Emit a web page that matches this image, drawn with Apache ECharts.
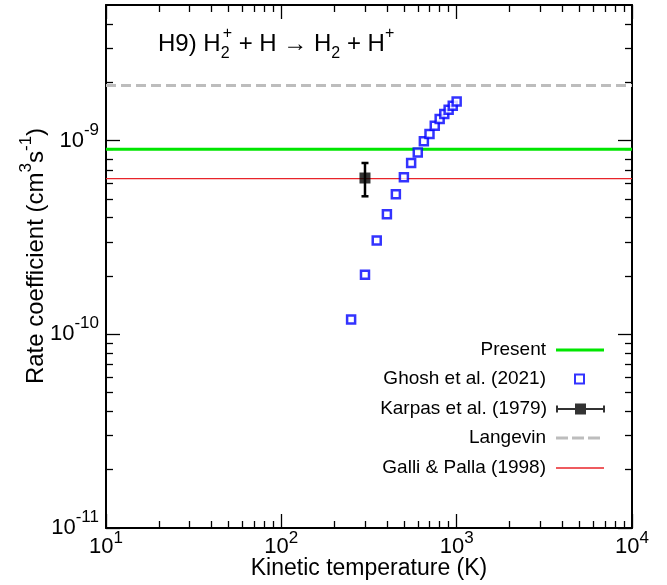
<!DOCTYPE html>
<html>
<head>
<meta charset="utf-8">
<script src="https://cdn.jsdelivr.net/npm/echarts@6/dist/echarts.min.js"></script>
<style>html,body{margin:0;padding:0;background:#fff}#c{width:667px;height:585px}</style>
</head>
<body>
<div id="c"></div>
<script>
// ---- axis ranges ----
const xRange = [10, 10000];
const yRange = [1e-11, 5e-9];
const xDecades = [1, 2, 3];
const yDecades = [-11, -10, -9];

// ---- Ghosh et al. (2021) ----
const ghoshT = [250, 300, 350, 400, 450, 500, 550, 600, 650, 700, 750, 800, 850, 900, 950, 1000];
const ghoshRate = [1.19e-10, 2.03e-10, 3.05e-10, 4.16e-10, 5.27e-10, 6.45e-10, 7.65e-10, 8.67e-10,
                   9.9e-10, 1.08e-9, 1.19e-9, 1.29e-9, 1.37e-9, 1.44e-9, 1.51e-9, 1.59e-9];

// ---- Karpas et al. (1979) ----
const karpasT = [300];
const karpasRate = [6.4e-10];
const karpasLow = [5.15e-10];
const karpasHigh = [7.65e-10];

// ---- constant rate coefficients ----
const presentRate = 9.0e-10;
const langevinRate = 1.92e-9;
const galliRate = 6.35e-10;

const FONT = '"Liberation Sans", Arial, Helvetica, sans-serif';
const black = '#000000';
const green = '#00e600';
const red = '#e8242a';
const gray = '#bdbdbd';
const blue = '#0000ff';

function minorLog(decs, maxLog) {
  const out = [];
  decs.forEach(d => { for (let k = 2; k <= 9; k++) { const v = d + Math.log10(k); if (v < maxLog - 1e-9) out.push(v); } });
  return out;
}
const xLog = xRange.map(Math.log10);
const yLog = yRange.map(Math.log10);
const xMinor = minorLog(xDecades, xLog[1]);
const yMinor = minorLog(yDecades, yLog[1]);
const xMajor = xDecades.concat([xLog[1]]);
const yMajor = yDecades.slice();

function powLabel(v) {
  const l = Math.log10(v), e = Math.round(l);
  if (Math.abs(l - e) > 1e-6) return '';
  return '{b|10}{s|' + e + '}';
}

const axisLineStyle = {color: black, width: 2};
const tickMajor = {show: true, inside: true, length: 14, lineStyle: {color: black, width: 1.3}};
const tickMinor = {show: true, inside: true, length: 7, lineStyle: {color: black, width: 1.3}};

function helperAxis(pos, range, ticks, tick, showLine) {
  return {
    type: 'value', position: pos, min: range[0], max: range[1], silent: true,
    axisLine: {show: showLine, onZero: false, lineStyle: axisLineStyle},
    axisTick: Object.assign({}, tick, {customValues: ticks}),
    axisLabel: {show: false}, splitLine: {show: false}, minorTick: {show: false}
  };
}

const richX = {
  b: {fontFamily: FONT, fontSize: 22, lineHeight: 34, color: black},
  s: {fontFamily: FONT, fontSize: 17, lineHeight: 17, verticalAlign: 'top', color: black}
};
const richY = {
  b: {fontFamily: FONT, fontSize: 22, lineHeight: 38, color: black},
  s: {fontFamily: FONT, fontSize: 17, lineHeight: 17, verticalAlign: 'top', color: black}
};

function legendBox(name, icon, color, w, h, right, top, padRight, borderWidth) {
  const item = {name: name, itemStyle: {color: color}};
  if (icon) item.icon = icon;
  const lg = {
    data: [item], orient: 'vertical', align: 'right', right: right, top: top, padding: 0,
    itemWidth: w, itemHeight: h, selectedMode: false,
    textStyle: {fontFamily: FONT, fontSize: 19, color: black, lineHeight: 22, padding: [0, padRight, 0, 0]}
  };
  if (borderWidth === 0) { lg.itemStyle = {borderWidth: 0}; item.itemStyle.borderWidth = 0; }
  return lg;
}

const chart = echarts.init(document.getElementById('c'), null, {renderer: 'canvas'});
chart.setOption({
  animation: false,
  backgroundColor: '#ffffff',
  title: {
    text: 'H9) H{sub0|2}{sup|+} + H \u2192 H{sub|2} + H{sup|+}',
    left: 158, top: 26, padding: 0,
    textStyle: {
      fontFamily: FONT, fontSize: 24, fontWeight: 'normal', color: black, lineHeight: 36,
      rich: {
        sub0: {fontFamily: FONT, fontSize: 16, lineHeight: 16, width: 2, verticalAlign: 'bottom', color: black},
        sub: {fontFamily: FONT, fontSize: 16, lineHeight: 16, verticalAlign: 'bottom', color: black},
        sup: {fontFamily: FONT, fontSize: 16, lineHeight: 16, verticalAlign: 'top', color: black}
      }
    }
  },
  legend: [
    legendBox('Present', 'path://M0,0h48v3h-48z', green, 48, 3, 63, 339, 5, 0),
    legendBox('Ghosh et al. (2021)', null, '#ffffff', 9, 9, 82, 368, 24),
    legendBox('Karpas et al. (1979)', 'path://M0,2h2v2.5h45v-2.5h2v7h-2v-2.5h-45v2.5h-2z M19,0h11v11h-11z', black, 49, 11, 62, 398, 4, 0),
    legendBox('Langevin', 'path://M0,0h12v3h-12z M16,0h12v3h-12z M32,0h12v3h-12z', gray, 44, 3, 67, 427, 5, 0),
    legendBox('Galli & Palla (1998)', 'path://M0,0h48v1.5h-48z', red, 48, 1.5, 63, 457, 5, 0)
  ],
  grid: {left: 106, right: 35, top: 5, bottom: 56, containLabel: false},
  xAxis: [
    {
      type: 'log', logBase: 10, position: 'bottom', min: xRange[0], max: xRange[1],
      axisLine: {show: true, onZero: false, lineStyle: axisLineStyle},
      axisTick: tickMajor, minorTick: {show: false}, splitLine: {show: false},
      axisLabel: {margin: 2, formatter: powLabel, rich: richX, color: black, showMinLabel: true, showMaxLabel: true},
      name: 'Kinetic temperature (K)', nameLocation: 'middle', nameGap: 29, nameMoveOverlap: false,
      nameTextStyle: {fontFamily: FONT, fontSize: 23, color: black, lineHeight: 23}
    },
    helperAxis('bottom', xLog, xMinor, tickMinor, false),
    helperAxis('top', xLog, xMajor, tickMajor, true),
    helperAxis('top', xLog, xMinor, tickMinor, false)
  ],
  yAxis: [
    {
      type: 'log', logBase: 10, position: 'left', min: yRange[0], max: yRange[1],
      axisLine: {show: true, onZero: false, lineStyle: axisLineStyle},
      axisTick: tickMajor, minorTick: {show: false}, splitLine: {show: false},
      axisLabel: {margin: 7, formatter: powLabel, rich: richY, color: black, showMinLabel: true, showMaxLabel: false},
      name: 'Rate coefficient (cm{sup|3}s{sup|-1})', nameLocation: 'middle', nameGap: 52, nameRotate: 90,
      nameMoveOverlap: false,
      nameTextStyle: {
        fontFamily: FONT, fontSize: 24, color: black, lineHeight: 36, padding: [0, 0, 0, 21],
        rich: {sup: {fontFamily: FONT, fontSize: 17, lineHeight: 14, verticalAlign: 'top', color: black}}
      }
    },
    helperAxis('left', yLog, yMinor, tickMinor, false),
    helperAxis('right', yLog, yMajor, tickMajor, true),
    helperAxis('right', yLog, yMinor, tickMinor, false)
  ],
  series: [
    {
      name: 'Present', type: 'line', color: green, symbol: 'none', silent: true, z: 2,
      data: xRange.map(x => [x, presentRate]),
      lineStyle: {color: green, width: 3}, itemStyle: {color: green}
    },
    {
      name: 'Langevin', type: 'line', color: gray, symbol: 'none', silent: true, z: 2,
      data: xRange.map(x => [x, langevinRate]),
      lineStyle: {color: gray, width: 3, type: [10, 5]}, itemStyle: {color: gray}
    },
    {
      name: 'Galli & Palla (1998)', type: 'line', color: red, symbol: 'none', silent: true, z: 2,
      data: xRange.map(x => [x, galliRate]),
      lineStyle: {color: red, width: 1.3}, itemStyle: {color: red}
    },
    {
      name: 'Ghosh et al. (2021)', type: 'scatter', symbol: 'rect', symbolSize: 8, z: 5,
      data: ghoshT.map((t, i) => [t, ghoshRate[i]]),
      itemStyle: {color: '#ffffff', borderColor: blue, borderWidth: 2.5}
    },
    {
      name: 'Karpas et al. (1979)', type: 'scatter', symbol: 'rect', symbolSize: 11, z: 7,
      data: karpasT.map((t, i) => [t, karpasRate[i]]),
      itemStyle: {color: black}
    },
    {
      name: 'Karpas et al. (1979)', type: 'custom', z: 6,
      data: karpasT.map((t, i) => [t, karpasLow[i], karpasHigh[i]]),
      encode: {x: 0, y: [1, 2]},
      itemStyle: {color: black},
      renderItem: function (params, api) {
        const x = api.value(0);
        const lo = api.coord([x, api.value(1)]);
        const hi = api.coord([x, api.value(2)]);
        const cap = 3.5;
        const st = {stroke: black, lineWidth: 2.5};
        return {
          type: 'group',
          children: [
            {type: 'line', shape: {x1: lo[0], y1: lo[1], x2: hi[0], y2: hi[1]}, style: st},
            {type: 'line', shape: {x1: lo[0] - cap, y1: lo[1], x2: lo[0] + cap, y2: lo[1]}, style: st},
            {type: 'line', shape: {x1: hi[0] - cap, y1: hi[1], x2: hi[0] + cap, y2: hi[1]}, style: st}
          ]
        };
      }
    }
  ]
});
</script>
</body>
</html>
